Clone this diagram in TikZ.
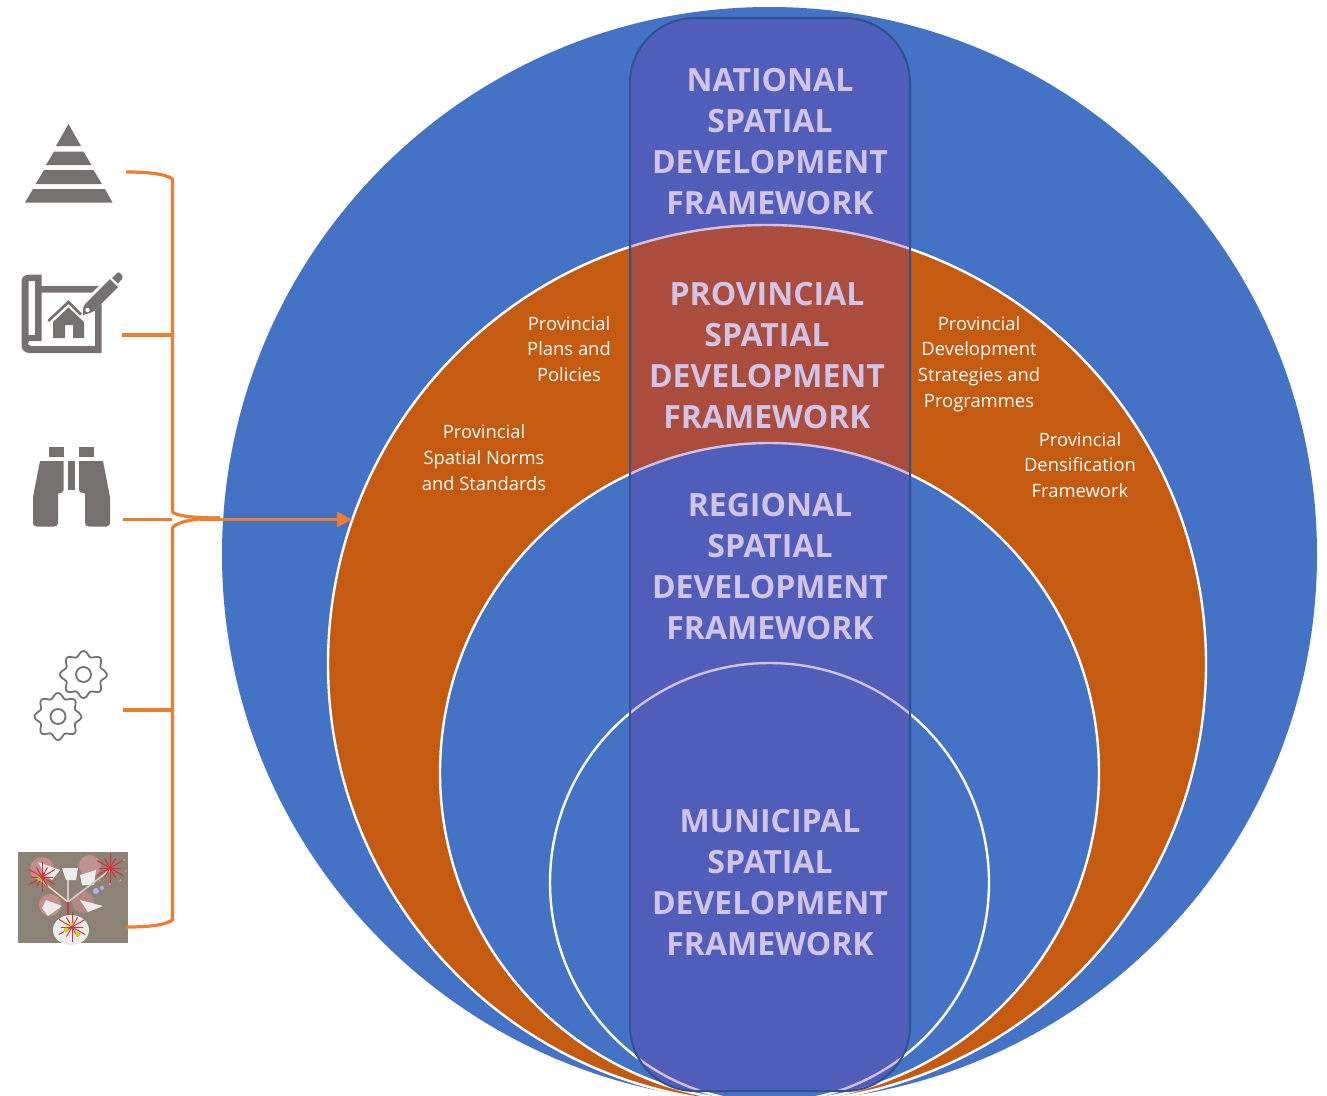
\documentclass[tikz,border=0pt]{standalone}
\usepackage{fontspec}
\setmainfont{Open Sans}
\usetikzlibrary{arrows.meta}
\definecolor{bigblue}{HTML}{4472C4}
\definecolor{burnt}{HTML}{C55A11}
\definecolor{lineor}{HTML}{ED7D31}
\definecolor{icongrey}{HTML}{767171}
\definecolor{purp}{HTML}{7030A0}
\definecolor{edgeblue}{HTML}{2F528F}
\definecolor{lav}{HTML}{D2C4E6}
\definecolor{tan}{HTML}{8C8275}
\definecolor{burst}{HTML}{D8303A}
\tikzset{x=1pt,y=-1pt,
 ring/.style={draw=white,line width=2.4pt},
 bigtxt/.style={text=lav,align=center,font=\fontsize{32}{41}\selectfont\bfseries,inner sep=0pt},
 smalltxt/.style={text=white,align=center,font=\fontsize{18.4}{25.6}\selectfont,inner sep=0pt},
 brace/.style={draw=lineor,line width=3.2pt},
 icon/.style={fill=icongrey,draw=none}}
\begin{document}
\begin{tikzpicture}
\useasboundingbox (0,0) rectangle (1327,1095);
\begin{scope}
\clip (0,0) rectangle (1327,1095);
\fill[bigblue] (769.5,554.5) circle[radius=547.5];
\draw[ring,fill=burnt] (767,664) circle[radius=439];
\draw[ring,fill=bigblue] (769.5,772.5) circle[radius=329.5];
\draw[ring,fill=bigblue] (769.5,882.5) circle[radius=219.5];
\end{scope}
\node[draw=edgeblue,line width=2pt,fill=purp,fill opacity=0.3,draw opacity=1,rounded corners=65pt,minimum width=280pt,minimum height=1073pt,inner sep=0pt] (spine) at (770,554.5) {};
\node[bigtxt] (nat) at (770,142) {NATIONAL\\SPATIAL\\DEVELOPMENT\\FRAMEWORK};
\node[bigtxt] (prov) at (767,355.5) {PROVINCIAL\\SPATIAL\\DEVELOPMENT\\FRAMEWORK};
\node[bigtxt] (reg) at (770,567) {REGIONAL\\SPATIAL\\DEVELOPMENT\\FRAMEWORK};
\node[bigtxt] (mun) at (770,883) {MUNICIPAL\\SPATIAL\\DEVELOPMENT\\FRAMEWORK};
\node[smalltxt] (a) at (569,349) {Provincial\\Plans and\\Policies};
\node[smalltxt] (b) at (484,457.5) {Provincial\\Spatial Norms\\and Standards};
\node[smalltxt] (c) at (979,364) {Provincial\\Development\\Strategies and\\Programmes};
\node[smalltxt] (d) at (1080,465) {Provincial\\Densification\\Framework};
% pyramid
\fill[icon] (68.5,124) -- (81,146) -- (56,146) -- cycle;
\fill[icon] (54,151.5) -- (83.5,151.5) -- (91.5,165) -- (46,165) -- cycle;
\fill[icon] (44,170) -- (93.5,170) -- (102,184) -- (35.5,184) -- cycle;
\fill[icon] (33,189) -- (105,189) -- (112.5,202.5) -- (25,202.5) -- cycle;
% plan
\fill[icon,even odd rule] (29,274.5) -- (41.5,274.5) -- (41.5,286) -- (99,286) -- (92,292.5) -- (41.5,292.5) -- (41.5,341) -- (29,341) .. controls (27,344) and (29,346) .. (31,346) -- (95,346) -- (95,310) -- (101.5,304) -- (101.5,353) -- (30,353) .. controls (25,353) and (21.5,350) .. (21.5,345) -- (21.5,282) .. controls (21.5,277) and (25,274.5) .. (29,274.5) -- cycle (28.5,281) -- (28.5,335) -- (35,335) -- (35,281) -- cycle;
\fill[icon] (47.5,320) -- (68.5,300) -- (82,313.5) -- (80,315.5) -- (68.5,304) -- (49,322) -- cycle;
\fill[icon] (53,322) -- (68.5,307.5) -- (84,322) -- (84,338) -- (73,338) -- (73,325) -- (65,325) -- (65,338) -- (53,338) -- cycle;
\fill[icon] (83,310) .. controls (83,307) and (84,305) .. (86,303) -- (110,279) -- (118,287) -- (94,311) .. controls (91,313) and (87,314) .. (83,315) -- cycle;
\fill[white] (87.5,310) circle[radius=2.2];
\fill[icon] (112,278) -- (117,273) .. controls (118,272) and (119,272) .. (120,273) -- (122.5,276) .. controls (123,277) and (123,278) .. (122,279) -- (118,283.5) -- cycle;
% binoculars
\fill[icon] (48.5,447) rectangle (63.5,457);
\fill[icon] (79,447) rectangle (94,457);
\fill[icon] (68,461) rectangle (75,490);
\fill[icon] (40,461) -- (63.5,461) -- (63.5,490) .. controls (63.5,492) and (62,493) .. (58,493.5) -- (58,523) .. controls (58,525.5) and (56,526.5) .. (54,526.5) -- (37,526.5) .. controls (34.5,526.5) and (33,525) .. (33,523) -- (33,497) -- cycle;
\fill[icon] (103,461) -- (79,461) -- (79,490) .. controls (79,492) and (81,493) .. (85,493.5) -- (85,523) .. controls (85,525.5) and (87,526.5) .. (89,526.5) -- (106,526.5) .. controls (108.5,526.5) and (110,525) .. (110,523) -- (110,497) -- cycle;
% gears
\foreach \gx/\gy in {83.5/674.5,58/716.5}{
 \draw[icongrey,line width=1.8pt,line join=round] plot[smooth cycle,samples=64,domain=0:348.75,variable=\t] ({\gx+(21+2.6*cos(8*\t))*cos(\t)},{\gy+(21+2.6*cos(8*\t))*sin(\t)});
 \draw[icongrey,line width=1.8pt] (\gx,\gy) circle[radius=7.5];
}
% collage image
\fill[tan] (18,852) rectangle (128,943);
\fill[burst!45!tan!70!white] (42,869) circle[radius=12];
\fill[burst!35!tan!70!white] (90,866) circle[radius=11];
\fill[burst!45!tan!70!white] (50,905) circle[radius=11];
\fill[burst!30!tan!80!white] (83,902) circle[radius=11];
\fill[white!85!tan] (71,930) ellipse[x radius=18,y radius=15];
\fill[white!85!tan] (62,868) -- (78,868) -- (76,880) -- (66,880) -- cycle;
\fill[white!85!tan] (80,875) -- (96,870) -- (94,885) -- (82,885) -- cycle;
\fill[white!85!tan] (38,862) -- (60,870) -- (52,880) -- (46,876) -- cycle;
\fill[white!85!tan] (46,900) -- (62,906) -- (48,916) -- (42,908) -- cycle;
\fill[white!85!tan] (80,900) -- (103,906) -- (88,912) -- cycle;
\draw[white!70!orange,line width=1.4pt] (38,878) -- (68,902);
\draw[white!60!tan,line width=1.6pt] (68,902) -- (110,870);
\draw[white!60!tan,line width=1.2pt] (68,880) -- (68,902);
\draw[burst,line width=1.4pt] (68,902) -- (68,915);
\foreach \t/\r in {0/11,30/15,60/11,90/15,120/11,150/15,180/11,210/15,240/11,270/15,300/11,330/15}{
 \draw[burst,line width=1pt] (42,877) -- ++(\t:\r);
 \draw[burst,line width=1pt] (110,868) -- ++(\t:\r);
 \draw[burst,line width=1pt] (72,927) -- ++(\t:\r);
}
\foreach \t in {-30,10,50,90,130}{\fill[white!50!burst] (110,868) ++(\t:16) circle[radius=1];}
\fill[yellow!70!green] (66,930) circle[radius=2.5];
\fill[yellow!70!green] (78,934) circle[radius=2.5];
\fill[yellow!80!green] (71,924) circle[radius=2];
\fill[blue!30!white] (96,891) circle[radius=3];
\fill[blue!30!white] (102,888) circle[radius=2];
\fill[yellow!60!green] (39,879) circle[radius=2];
% brace
\coordinate (t) at (126,172);
\coordinate (bt) at (126,927);
\coordinate (tip) at (220,518);
\draw[brace,line join=round] (t) .. controls (150,172) and (165,174) .. (172.5,179) -- (172.5,512) .. controls (176,516) and (195,518) .. (tip);
\draw[brace,line join=round] (bt) .. controls (150,927) and (165,925) .. (172.5,920) -- (172.5,528) .. controls (176,522) and (195,518) .. (tip);
\coordinate (i2) at (122,335); \coordinate (j2) at (172,335);
\coordinate (i3) at (123,519.5); \coordinate (j3) at (172,519.5);
\coordinate (i4) at (123,710); \coordinate (j4) at (172,710);
\draw[brace] (i2) -- (j2);
\draw[brace] (i3) -- (j3);
\draw[brace] (i4) -- (j4);
\coordinate (as) at (200,519.5);
\coordinate (ae) at (352,519.5);
\draw[brace,-{Triangle[length=15pt,width=15pt]}] (as) -- (ae);
\end{tikzpicture}
\end{document}
